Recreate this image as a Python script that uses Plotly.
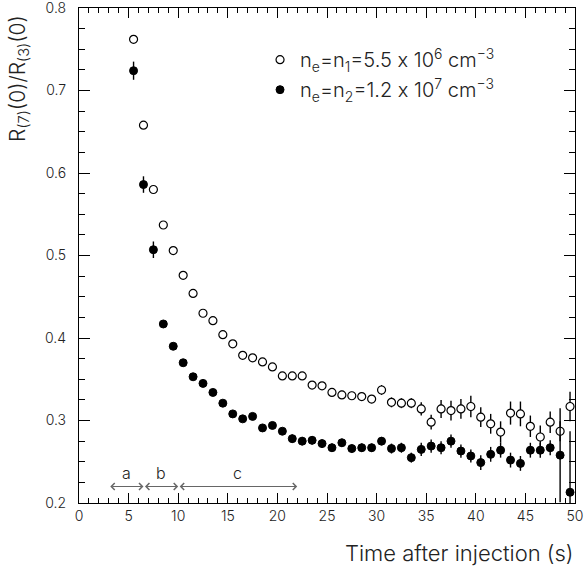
import plotly.graph_objects as go

# ---- data ----
time_s = [5.5, 6.5, 7.5, 8.5, 9.5, 10.5, 11.5, 12.5, 13.5, 14.5, 15.5, 16.5, 17.5, 18.5, 19.5,
          20.5, 21.5, 22.5, 23.5, 24.5, 25.5, 26.5, 27.5, 28.5, 29.5, 30.5, 31.5, 32.5, 33.5, 34.5,
          35.5, 36.5, 37.5, 38.5, 39.5, 40.5, 41.5, 42.5, 43.5, 44.5, 45.5, 46.5, 47.5, 48.5, 49.5]

ratio_n1 = [0.762, 0.658, 0.580, 0.537, 0.506, 0.476, 0.454, 0.430, 0.421, 0.404, 0.393, 0.379,
            0.376, 0.371, 0.365, 0.354, 0.354, 0.354, 0.343, 0.342, 0.334, 0.331, 0.330, 0.329,
            0.326, 0.337, 0.322, 0.321, 0.321, 0.314, 0.298, 0.314, 0.312, 0.314, 0.317, 0.304,
            0.296, 0.286, 0.309, 0.308, 0.293, 0.280, 0.298, 0.287, 0.317]
err_n1 = [0.004, 0.004, 0.004, 0.004, 0.004, 0.004, 0.004, 0.004, 0.004, 0.004, 0.004, 0.004,
          0.004, 0.004, 0.004, 0.004, 0.004, 0.004, 0.004, 0.004, 0.004, 0.005, 0.005, 0.005,
          0.005, 0.006, 0.006, 0.006, 0.006, 0.008, 0.009, 0.011, 0.012, 0.012, 0.013, 0.012,
          0.012, 0.013, 0.014, 0.015, 0.013, 0.014, 0.013, 0.012, 0.018]

ratio_n2 = [0.724, 0.586, 0.507, 0.417, 0.390, 0.370, 0.353, 0.345, 0.334, 0.321, 0.308, 0.302,
            0.305, 0.291, 0.294, 0.287, 0.278, 0.275, 0.276, 0.272, 0.267, 0.273, 0.266, 0.267,
            0.267, 0.275, 0.266, 0.267, 0.255, 0.265, 0.269, 0.267, 0.275, 0.263, 0.257, 0.249,
            0.259, 0.264, 0.252, 0.248, 0.264, 0.264, 0.267, 0.258, 0.213]
err_n2 = [0.011, 0.010, 0.010, 0.004, 0.004, 0.004, 0.004, 0.004, 0.004, 0.004, 0.004, 0.004,
          0.004, 0.004, 0.004, 0.004, 0.005, 0.005, 0.005, 0.005, 0.005, 0.005, 0.005, 0.005,
          0.005, 0.005, 0.006, 0.006, 0.006, 0.008, 0.008, 0.008, 0.008, 0.008, 0.008, 0.009,
          0.009, 0.009, 0.009, 0.009, 0.009, 0.009, 0.009, 0.057, 0.074]

# \u200c keeps the font from turning "x" into a multiplication sign
label_n1 = "n<sub>e</sub>=n<sub>1</sub>=5.5 \u200cx\u200c 10<sup>6</sup> cm<sup>\u22123</sup>"
label_n2 = "n<sub>e</sub>=n<sub>2</sub>=1.2 \u200cx\u200c 10<sup>7</sup> cm<sup>\u22123</sup>"

# stage regions: (label, start, end) in seconds
regions = [("a", 3.0, 6.5), ("b", 6.5, 10.0), ("c", 10.0, 22.0)]
region_y = 0.22
region_label_y = 0.236

x_ticks = [0, 5, 10, 15, 20, 25, 30, 35, 40, 45, 50]
y_ticks = [0.2, 0.3, 0.4, 0.5, 0.6, 0.7, 0.8]

FONT = "Inter, Lato, sans-serif"
W = 300
TXT = "#222222"
GRAY = "#666666"

fig = go.Figure()
fig.add_trace(go.Scatter(
    x=time_s, y=ratio_n1, mode="markers", name=label_n1, legendgroup="g1",
    marker=dict(symbol="circle", size=8, color="white", line=dict(color="black", width=1.2)),
    error_y=dict(type="data", array=err_n1, color="black", thickness=1.4, width=0),
))
fig.add_trace(go.Scatter(
    x=time_s, y=ratio_n2, mode="markers", name=label_n2, legendgroup="g2",
    marker=dict(symbol="circle", size=8, color="black", line=dict(color="black", width=1)),
    error_y=dict(type="data", array=err_n2, color="black", thickness=1.4, width=0),
))
# invisible trace to carry the mirrored (top/right) tick axes
fig.add_trace(go.Scatter(x=[0, 50], y=[0.2, 0.8], xaxis="x2", yaxis="y2", mode="markers",
                         marker=dict(opacity=0), showlegend=False, hoverinfo="skip"))

annotations = []
for lab, x0, x1 in regions:
    annotations.append(dict(
        x=x1, y=region_y, ax=x0, ay=region_y, xref="x", yref="y", axref="x", ayref="y",
        text="", showarrow=True, arrowhead=4, startarrowhead=4, arrowside="end+start",
        arrowsize=1.1, startarrowsize=1.1, arrowwidth=1.2, arrowcolor=GRAY,
    ))
    annotations.append(dict(
        x=(x0 + x1) / 2, y=region_label_y, xref="x", yref="y", text=lab, showarrow=False,
        font=dict(family=FONT, size=16, color=TXT, weight=W),
    ))

annotations.append(dict(
    x=1.0, y=-0.07, xref="paper", yref="paper", xanchor="right", yanchor="top",
    text="Time after injection (s)", showarrow=False,
    font=dict(family=FONT, size=22, color=TXT, weight=W),
))
annotations.append(dict(
    x=-0.12, y=0.99, xref="paper", yref="paper", xanchor="center", yanchor="top",
    text="R<sub>(7)</sub>(0)/R<sub>(3)</sub>(0)", showarrow=False, textangle=-90,
    font=dict(family=FONT, size=21, color=TXT, weight=W),
))

axis_common = dict(
    showline=True, linecolor="black", linewidth=1.2, automargin=False,
    ticks="inside", tickcolor="black", tickwidth=1, showgrid=False, zeroline=False,
    tickfont=dict(family=FONT, size=14, color=TXT, weight=W),
)
mirror_common = dict(
    showticklabels=False, showline=True, linecolor="black", linewidth=1.2, automargin=False,
    ticks="inside", tickcolor="black", showgrid=False, zeroline=False,
)

fig.update_layout(
    width=585, height=574,
    margin=dict(l=79, r=10, t=8, b=71, autoexpand=False),
    paper_bgcolor="white", plot_bgcolor="white",
    showlegend=True,
    legend=dict(x=0.365, y=0.935, xanchor="left", yanchor="top", bgcolor="rgba(0,0,0,0)",
                font=dict(family=FONT, size=20, color=TXT, weight=W), traceorder="grouped",
                tracegroupgap=1),
    xaxis=dict(range=[0, 50], tickvals=x_ticks, ticklen=10,
               minor=dict(dtick=1, ticklen=5, ticks="inside", tickcolor="black"),
               **axis_common),
    yaxis=dict(range=[0.2, 0.8], tickvals=y_ticks, tickformat=".1f", ticklen=11,
               ticklabelstandoff=9, ticklabeloverflow="allow",
               minor=dict(dtick=0.025, ticklen=6, ticks="inside", tickcolor="black"),
               **axis_common),
    xaxis2=dict(range=[0, 50], overlaying="x", side="top", tickvals=x_ticks, ticklen=10,
                minor=dict(dtick=1, ticklen=5, ticks="inside", tickcolor="black"),
                **mirror_common),
    yaxis2=dict(range=[0.2, 0.8], overlaying="y", side="right", tickvals=y_ticks, ticklen=11,
                minor=dict(dtick=0.025, ticklen=6, ticks="inside", tickcolor="black"),
                **mirror_common),
    annotations=annotations,
)

fig.write_html("out.html")
